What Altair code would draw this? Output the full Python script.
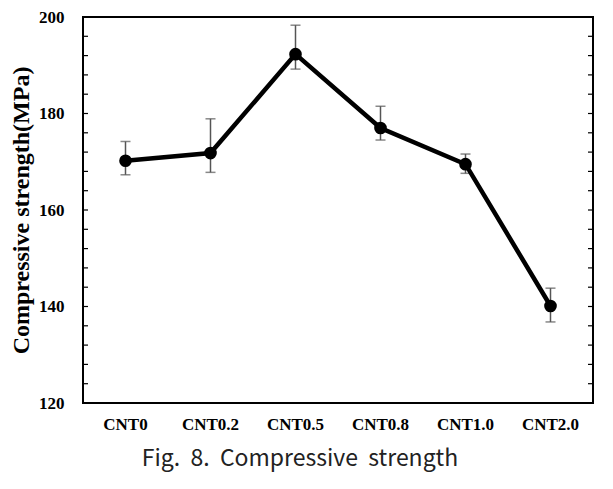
import altair as alt
import pandas as pd

categories = ["CNT0", "CNT0.2", "CNT0.5", "CNT0.8", "CNT1.0", "CNT2.0"]
strength = [170.2, 171.8, 192.3, 177.0, 169.5, 140.1]
err_high = [174.2, 178.9, 198.3, 181.5, 171.6, 143.8]
err_low = [167.3, 167.8, 189.2, 174.5, 167.6, 136.8]
minor_ticks = list(range(124, 200, 4))

df = pd.DataFrame({"cat": categories, "v": strength, "hi": err_high, "lo": err_low})
ticks_df = pd.DataFrame({"t": minor_ticks})

serif = "Liberation Serif"

x_enc = alt.X("cat:N", sort=categories, title=None,
              axis=alt.Axis(labelAngle=0, ticks=False, domain=False, labelFont=serif,
                            labelFontWeight="bold", labelFontSize=17, labelColor="black",
                            labelPadding=13))
y_scale = alt.Scale(domain=[120, 200], nice=False, zero=False)
y_enc = alt.Y("v:Q", scale=y_scale, title="Compressive strength(MPa)",
              axis=alt.Axis(values=[120, 140, 160, 180, 200], ticks=False, domain=False,
                            grid=False, labelFont=serif, labelFontWeight="bold",
                            labelFontSize=17, labelColor="black", labelPadding=19,
                            titleFont=serif, titleFontWeight="bold", titleFontSize=24,
                            titleColor="black", titleX=-62, titleY=193,
                            titleAngle=270, titleAlign="center", titleBaseline="middle"))

base = alt.Chart(df)

err = base.mark_rule(color="#555555", strokeWidth=1.5).encode(
    x=x_enc, y=alt.Y("lo:Q", scale=y_scale), y2="hi:Q")
cap_hi = base.mark_tick(color="#555555", thickness=1.5, size=10, orient="horizontal").encode(
    x=x_enc, y=alt.Y("hi:Q", scale=y_scale))
cap_lo = base.mark_tick(color="#555555", thickness=1.5, size=10, orient="horizontal").encode(
    x=x_enc, y=alt.Y("lo:Q", scale=y_scale))
line = base.mark_line(color="black", strokeWidth=4.5).encode(x=x_enc, y=y_enc)
pts = base.mark_point(filled=True, color="black", size=160, opacity=1).encode(x=x_enc, y=y_enc)

tl = alt.Chart(ticks_df).mark_rule(color="black", strokeWidth=1.2).encode(
    y=alt.Y("t:Q", scale=y_scale), x=alt.value(0), x2=alt.value(5))
tr = alt.Chart(ticks_df).mark_rule(color="black", strokeWidth=1.2).encode(
    y=alt.Y("t:Q", scale=y_scale), x=alt.value(505), x2=alt.value(510))

chart = alt.layer(tl, tr, err, cap_hi, cap_lo, line, pts).properties(
    width=510, height=386,
    title=alt.TitleParams("Fig.\u00a0 8.\u00a0 Compressive\u00a0 strength", orient="bottom",
                          anchor="middle", dx=-38, offset=16, font="Noto Sans CJK KR",
                          fontSize=23, fontWeight="normal", color="#222222"),
    autosize=alt.AutoSizeParams(type="none"),
    padding={"left": 75, "top": 9, "right": 12, "bottom": 78},
).configure_view(stroke="black", strokeWidth=2).configure_axis(grid=False)

chart.save("out.html", embed_options={"renderer": "svg", "actions": False})
